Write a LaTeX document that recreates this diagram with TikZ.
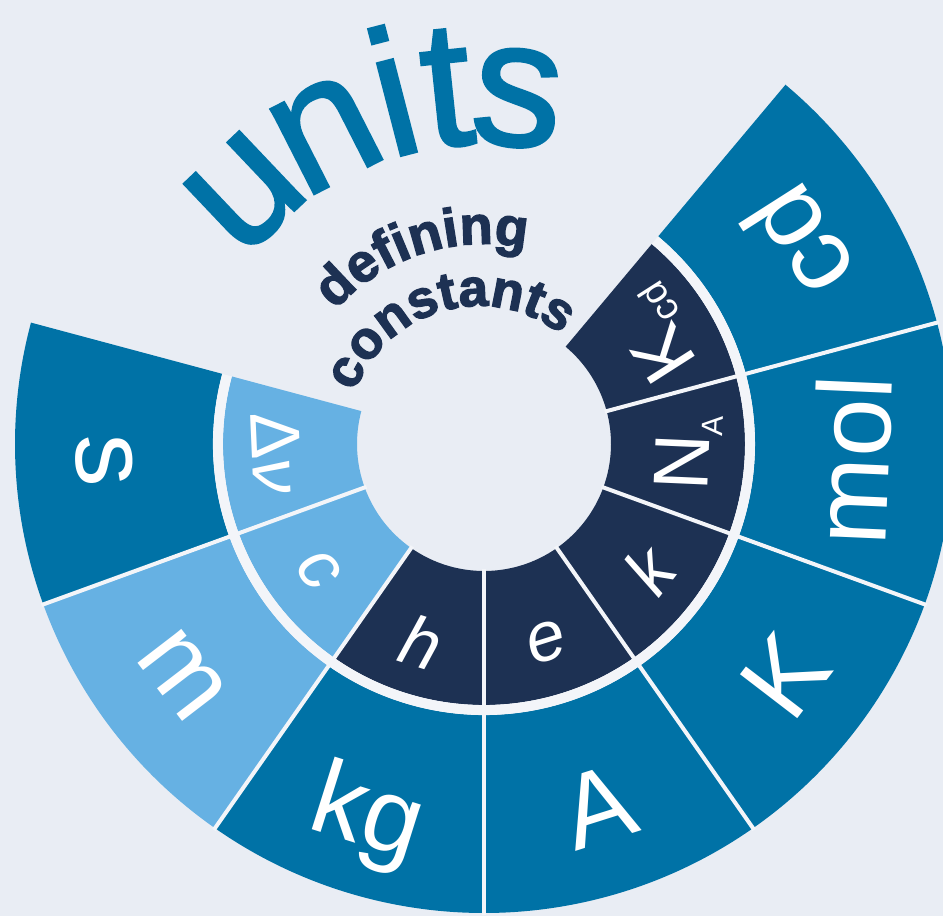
\documentclass[tikz,border=0pt]{standalone}
\usepackage{fontspec}
\setmainfont{Liberation Sans}
\newfontfamily\unitsfont[FakeBold=1.5]{Liberation Sans}
\newfontfamily\constfont[FakeBold=2.5]{Liberation Sans Bold}
\usetikzlibrary{decorations.text}

\definecolor{unitblue}{HTML}{0072A6}
\definecolor{unitlight}{HTML}{66B1E3}
\definecolor{constnavy}{HTML}{1D3153}
\definecolor{paper}{HTML}{E9EDF4}
\definecolor{gapwhite}{HTML}{F3F5F9}

\newcommand{\subtxt}[2]{\raisebox{-12pt}{\fontsize{#1}{#1}\selectfont #2}}

\tikzset{
  unitlabel/.style={text=white, inner sep=0pt, font=\fontsize{105}{105}\selectfont},
  constlabel/.style={text=white, inner sep=0pt, font=\fontsize{70}{70}\selectfont\itshape},
  titleletter/.style={text=unitblue, inner sep=0pt, anchor=base, font=\unitsfont\fontsize{180}{180}\selectfont},
  gapline/.style={draw=gapwhite, line width=4},
}

\begin{document}
\begin{tikzpicture}[x=1pt, y=1pt]

    % Background
    \fill[paper] (0,0) rectangle (943,916);
    \useasboundingbox (0,0) rectangle (943,916);

    \begin{scope}[shift={(484,472)}]

    % Outer ring: base units
    \foreach \a/\col in {165/unitblue, 200/unitlight, 235/unitblue, 270/unitblue, 305/unitblue, 340/unitblue, 375/unitblue} {
        \pgfmathsetmacro{\b}{\a+35}
        \fill[\col] (\a:271) arc[start angle=\a, end angle=\b, radius=271]
            -- (\b:469) arc[start angle=\b, end angle=\a, radius=469] -- cycle;
    }

    % Inner ring: defining constants
    \foreach \a/\col in {165/unitlight, 200/unitlight, 235/constnavy, 270/constnavy, 305/constnavy, 340/constnavy, 375/constnavy} {
        \pgfmathsetmacro{\b}{\a+35}
        \fill[\col] (\a:127) arc[start angle=\a, end angle=\b, radius=127]
            -- (\b:261) arc[start angle=\b, end angle=\a, radius=261] -- cycle;
    }

    % Gaps
    \draw[gapwhite, line width=10] (165:266) arc[start angle=165, end angle=410, radius=266];
    \foreach \a in {200,235,...,375}
        \draw[gapline] (\a:125) -- (\a:471);

    % Unit labels
    \foreach \a/\r/\txt/\nm in {182.5/380/s/s, 217.5/380/m/m, 252.5/392/kg/kg, 287.5/380/A/A, 322.5/380/K/K, 357.5/368/mol/mol, 392.5/372/cd/cd}
        \node[unitlabel, rotate=\a+90] (unit-\nm) at (\a:\r) {\txt};

    % Constant labels
    \foreach \a/\txt/\nm in {182.5/{{\upshape Δ}ν}/dnu, 217.5/c/c, 252.5/h/h, 287.5/e/e, 322.5/k/k}
        \node[constlabel, rotate=\a+90] (const-\nm) at (\a:208) {\txt};
    \node[constlabel, font=\fontsize{78}{78}\selectfont, rotate=447.5] (const-na) at (357.5:205) {N\subtxt{30}{A}};
    \node[constlabel, font=\fontsize{76}{76}\selectfont, rotate=482.5] (const-kcd) at (392.5:205) {K\subtxt{38}{cd}};

    % Titles
    \foreach \ch/\ang [count=\i] in {u/133.5, n/117, i/104.5, t/96, s/84.5}
        \node[titleletter, rotate=\ang-90] (title-\i) at (\ang:300) {\ch};
    \path[decorate, decoration={text along path, text align=center, text color=constnavy,
        text={|\constfont\fontsize{54}{54}\selectfont|defining}}]
        (150:200) arc[start angle=150, end angle=66, radius=200];
    \path[shift={(-5,5)}, decorate, decoration={text along path, text align=center, text color=constnavy,
        text={|\constfont\fontsize{53}{53}\selectfont|constants}}]
        (160:133) arc[start angle=160, end angle=51, radius=133];

    \end{scope}

\end{tikzpicture}
\end{document}
